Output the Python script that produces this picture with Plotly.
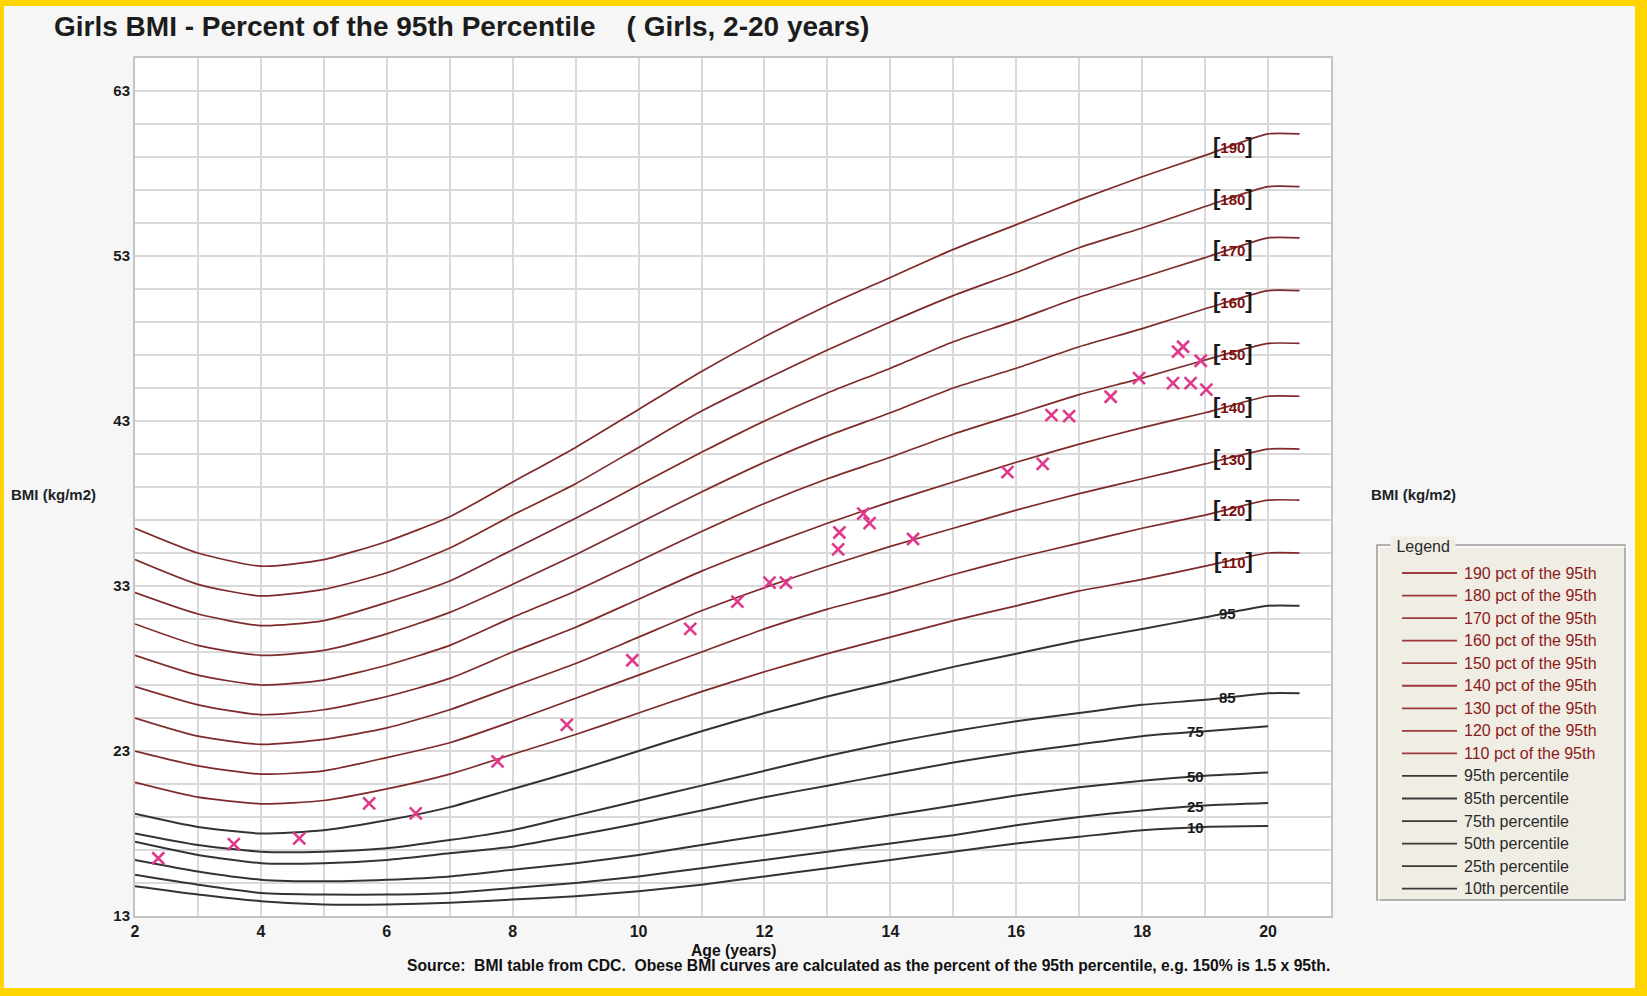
import numpy as np
import plotly.graph_objects as go

# ---------------- data ----------------
ages = [2, 3, 4, 5, 6, 7, 8, 9, 10, 11, 12, 13, 14, 15, 16, 17, 18, 19, 20, 20.5]
ages_pct = [2, 3, 4, 5, 6, 7, 8, 9, 10, 11, 12, 13, 14, 15, 16, 17, 18, 19, 20]

p95 = [19.2, 18.4, 18.0, 18.2, 18.8, 19.6, 20.7, 21.8, 23.0, 24.2, 25.3, 26.3, 27.2, 28.1, 28.9, 29.7, 30.4, 31.1, 31.8, 31.8]
p85 = [18.0, 17.3, 16.9, 16.9, 17.1, 17.6, 18.2, 19.1, 20.0, 20.9, 21.8, 22.7, 23.5, 24.2, 24.8, 25.3, 25.8, 26.1, 26.5, 26.5]
p75 = [17.5, 16.7, 16.2, 16.2, 16.4, 16.8, 17.2, 17.9, 18.6, 19.4, 20.2, 20.9, 21.6, 22.3, 22.9, 23.4, 23.9, 24.2, 24.5]
p50 = [16.4, 15.7, 15.2, 15.1, 15.2, 15.4, 15.8, 16.2, 16.7, 17.3, 17.9, 18.5, 19.1, 19.7, 20.3, 20.8, 21.2, 21.5, 21.7]
p25 = [15.5, 14.9, 14.4, 14.3, 14.3, 14.4, 14.7, 15.0, 15.4, 15.9, 16.4, 16.9, 17.4, 17.9, 18.5, 19.0, 19.4, 19.7, 19.85]
p10 = [14.8, 14.3, 13.9, 13.7, 13.7, 13.8, 14.0, 14.2, 14.5, 14.9, 15.4, 15.9, 16.4, 16.9, 17.4, 17.8, 18.2, 18.4, 18.45]

pct190 = [36.5, 35.0, 34.2, 34.6, 35.7, 37.2, 39.3, 41.4, 43.7, 46.0, 48.1, 50.0, 51.7, 53.4, 54.9, 56.4, 57.8, 59.1, 60.4, 60.4]
pct180 = [34.6, 33.1, 32.4, 32.8, 33.8, 35.3, 37.3, 39.2, 41.4, 43.6, 45.5, 47.3, 49.0, 50.6, 52.0, 53.5, 54.7, 56.0, 57.2, 57.2]
pct170 = [32.6, 31.3, 30.6, 30.9, 32.0, 33.3, 35.2, 37.1, 39.1, 41.1, 43.0, 44.7, 46.2, 47.8, 49.1, 50.5, 51.7, 52.9, 54.1, 54.1]
pct160 = [30.7, 29.4, 28.8, 29.1, 30.1, 31.4, 33.1, 34.9, 36.8, 38.7, 40.5, 42.1, 43.5, 45.0, 46.2, 47.5, 48.6, 49.8, 50.9, 50.9]
pct150 = [28.8, 27.6, 27.0, 27.3, 28.2, 29.4, 31.1, 32.7, 34.5, 36.3, 38.0, 39.5, 40.8, 42.2, 43.4, 44.6, 45.6, 46.7, 47.7, 47.7]
pct140 = [26.9, 25.8, 25.2, 25.5, 26.3, 27.4, 29.0, 30.5, 32.2, 33.9, 35.4, 36.8, 38.1, 39.3, 40.5, 41.6, 42.6, 43.5, 44.5, 44.5]
pct130 = [25.0, 23.9, 23.4, 23.7, 24.4, 25.5, 26.9, 28.3, 29.9, 31.5, 32.9, 34.2, 35.4, 36.5, 37.6, 38.6, 39.5, 40.4, 41.3, 41.3]
pct120 = [23.0, 22.1, 21.6, 21.8, 22.6, 23.5, 24.8, 26.2, 27.6, 29.0, 30.4, 31.6, 32.6, 33.7, 34.7, 35.6, 36.5, 37.3, 38.2, 38.2]
pct110 = [21.1, 20.2, 19.8, 20.0, 20.7, 21.6, 22.8, 24.0, 25.3, 26.6, 27.8, 28.9, 29.9, 30.9, 31.8, 32.7, 33.4, 34.2, 35.0, 35.0]

obese_labels = ["190", "180", "170", "160", "150", "140", "130", "120", "110"]
obese_series = [pct190, pct180, pct170, pct160, pct150, pct140, pct130, pct120, pct110]

pctl_labels = ["95", "85", "75", "50", "25", "10"]
pctl_series = [p95, p85, p75, p50, p25, p10]
pctl_ages = [ages, ages, ages_pct, ages_pct, ages_pct, ages_pct]

legend_names = [f"{p} pct of the 95th" for p in obese_labels] + [f"{p}th percentile" for p in pctl_labels]

patient_age = [2.37, 3.57, 4.61, 5.72, 6.46, 7.76, 8.86, 9.90, 10.82, 11.57, 12.08, 12.34,
               13.19, 13.17, 13.57, 13.67, 14.36, 15.86, 16.42, 16.56, 16.84, 17.50, 17.95,
               18.49, 18.57, 18.65, 18.77, 18.93, 19.02]
patient_bmi = [16.5, 17.36, 17.7, 19.83, 19.22, 22.37, 24.58, 28.5, 30.4, 32.05, 33.2, 33.2,
               36.24, 35.22, 37.39, 36.81, 35.85, 39.9, 40.4, 43.36, 43.3, 44.47, 45.6,
               45.3, 47.2, 47.5, 45.3, 46.65, 44.9]

x_ticks = [2, 4, 6, 8, 10, 12, 14, 16, 18, 20]
y_ticks = [13, 23, 33, 43, 53, 63]

# ---------------- style ----------------
W, H = 1647, 996
L, R, T, B = 135, 1331, 58, 916
OBESE_LINE = "#7e2a2a"
OBESE_TEXT = "#8b1a1a"
BLACK_LINE = "#333333"
MARK = "#e0388a"
FONT = "Liberation Sans, Arial, sans-serif"
NARROW = "Liberation Sans Narrow, Arial Narrow, Liberation Sans, Arial, sans-serif"


def fx(px):
    return (px - L) / (R - L)


def fy(py):
    return (B - py) / (B - T)


fig = go.Figure()

for name, vals in zip(obese_labels, obese_series):
    fig.add_trace(go.Scatter(x=ages, y=vals, mode="lines", name=name,
                             line=dict(color=OBESE_LINE, width=1.7, shape="spline", smoothing=0.6),
                             showlegend=False, hoverinfo="skip"))

for name, xs, vals in zip(pctl_labels, pctl_ages, pctl_series):
    fig.add_trace(go.Scatter(x=xs, y=vals, mode="lines", name=name,
                             line=dict(color=BLACK_LINE, width=2, shape="spline", smoothing=0.6),
                             showlegend=False, hoverinfo="skip"))

fig.add_trace(go.Scatter(x=patient_age, y=patient_bmi, mode="markers", name="BMI",
                         marker=dict(symbol="x-thin", size=12, line=dict(color=MARK, width=2.6)),
                         showlegend=False))

ann = []
# curve labels for obese curves
for lab, vals in zip(obese_labels, obese_series):
    ax = 19.45
    ann.append(dict(x=ax, y=float(np.interp(ax, ages, vals)), xref="x", yref="y",
                    text=f"<span style='font-size:22px;color:#1a1a1a'>[</span>{lab}<span style='font-size:22px;color:#1a1a1a'>]</span>",
                    showarrow=False, xanchor="center", yanchor="middle",
                    font=dict(family=NARROW, size=15, color="#7a1010", weight="bold")))
for lab, xs, vals in zip(pctl_labels, pctl_ages, pctl_series):
    ax = 19.35 if lab in ("95", "85") else 18.84
    ann.append(dict(x=ax, y=float(np.interp(ax, xs, vals)), xref="x", yref="y",
                    text=lab, showarrow=False, xanchor="center", yanchor="middle",
                    font=dict(family=NARROW, size=15, color="#1a1a1a", weight="bold")))

# title, axis texts, source
ann.append(dict(x=fx(52), y=fy(27), xref="paper", yref="paper", xanchor="left", yanchor="middle",
                text="Girls BMI - Percent of the 95th Percentile &nbsp;&nbsp; ( Girls, 2-20 years)",
                showarrow=False, font=dict(family=FONT, size=28, color="#1c1c1c", weight="bold")))
ann.append(dict(x=fx(53), y=fy(494), xref="paper", yref="paper", xanchor="center", yanchor="middle",
                text="BMI (kg/m2)", showarrow=False,
                font=dict(family=FONT, size=15, color="#222", weight="bold")))
ann.append(dict(x=fx(1413), y=fy(494), xref="paper", yref="paper", xanchor="center", yanchor="middle",
                text="BMI (kg/m2)", showarrow=False,
                font=dict(family=FONT, size=15, color="#222", weight="bold")))
ann.append(dict(x=fx(733), y=fy(950), xref="paper", yref="paper", xanchor="center", yanchor="middle",
                text="Age (years)", showarrow=False,
                font=dict(family=NARROW, size=15.7, color="#111", weight="bold")))
ann.append(dict(x=fx(868), y=fy(966), xref="paper", yref="paper", xanchor="center", yanchor="middle",
                text="Source:  BMI table from CDC.  Obese BMI curves are calculated as the percent of the 95th percentile, e.g. 150% is 1.5 x 95th.",
                showarrow=False, font=dict(family=NARROW, size=15.7, color="#111", weight="bold")))

shapes = []
# legend box (drawn)
LX0, LX1, LY0, LY1 = 1377, 1625, 545, 900
shapes.append(dict(type="rect", xref="paper", yref="paper", x0=fx(LX0), x1=fx(LX1), y0=fy(LY1), y1=fy(LY0),
                   fillcolor="#f0ede4", line=dict(color="#9c9c9c", width=1.5), layer="below"))
shapes.append(dict(type="rect", xref="paper", yref="paper", x0=fx(LX0 + 2), x1=fx(LX1 + 2), y0=fy(LY1 + 2), y1=fy(LY0 + 2),
                   line=dict(color="#ffffff", width=1), layer="below"))
ann.append(dict(x=fx(1390), y=fy(546), xref="paper", yref="paper", xanchor="left", yanchor="middle",
                text="&nbsp;Legend&nbsp;", showarrow=False, bgcolor="#f0ede4",
                font=dict(family=FONT, size=16, color="#2a2a2a")))
for i, name in enumerate(legend_names):
    yy = 573 + i * 22.55
    is_obese = i < len(obese_labels)
    shapes.append(dict(type="line", xref="paper", yref="paper", x0=fx(1402), x1=fx(1457), y0=fy(yy), y1=fy(yy),
                       line=dict(color="#9b3b3b" if is_obese else "#3a3a3a", width=1.8)))
    ann.append(dict(x=fx(1462), y=fy(yy), xref="paper", yref="paper", xanchor="left", yanchor="middle",
                    text=name, showarrow=False,
                    font=dict(family=FONT, size=16, color=OBESE_TEXT if is_obese else "#2a2a2a")))

# yellow frame around the picture
GOLD = "#FFD400"
for (a, b, c, d) in [(0, 4, 0, H), (0, W, 0, 6), (1635, W, 0, H), (0, W, 988, H)]:
    shapes.append(dict(type="rect", xref="paper", yref="paper", x0=fx(a), x1=fx(b), y0=fy(d), y1=fy(c),
                       fillcolor=GOLD, line=dict(width=0), layer="above"))

GRID = "#d9d9d9"
fig.update_layout(
    width=W, height=H, autosize=False,
    margin=dict(l=L, r=W - R, t=T, b=H - B, pad=0),
    paper_bgcolor="#f6f6f6", plot_bgcolor="#ffffff",
    showlegend=False,
    annotations=ann, shapes=shapes,
    xaxis=dict(range=[2, 21], tickvals=x_ticks, showgrid=True, gridcolor=GRID, gridwidth=1.5,
               minor=dict(dtick=1, tick0=2, showgrid=True, gridcolor=GRID, gridwidth=1.5),
               zeroline=False, showline=True, linecolor="#c4c4c4", linewidth=2, mirror=True,
               ticks="", tickfont=dict(family=NARROW, size=16, color="#1a1a1a", weight="bold")),
    yaxis=dict(range=[13, 65], tickvals=y_ticks, showgrid=True, gridcolor=GRID, gridwidth=1.5,
               minor=dict(dtick=2, tick0=13, showgrid=True, gridcolor=GRID, gridwidth=1.5),
               zeroline=False, showline=True, linecolor="#c4c4c4", linewidth=2, mirror=True,
               ticks="", tickfont=dict(family=FONT, size=15, color="#1a1a1a", weight="bold")),
)

fig.write_html("out.html", config={"displayModeBar": False},
               post_script="document.body.style.margin='0px';")
